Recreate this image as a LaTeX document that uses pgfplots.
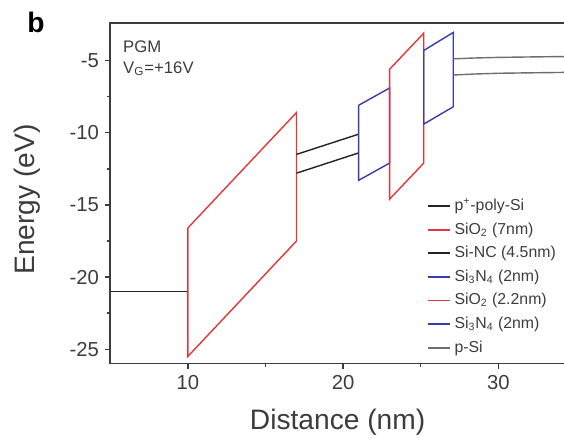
\documentclass[border=0pt]{standalone}
\usepackage{fontspec}
\setmainfont{Liberation Sans}
\usepackage{pgfplots}
\pgfplotsset{compat=1.18}
\usetikzlibrary{calc}
\definecolor{bandred}{RGB}{225,55,60}
\definecolor{bandblue}{RGB}{55,60,170}
\definecolor{bandblack}{RGB}{35,35,35}
\definecolor{bandgray}{RGB}{110,110,110}
\definecolor{axgray}{RGB}{60,60,60}
\begin{document}
\begin{tikzpicture}
\begin{axis}[
    scale only axis,
    width=9.08cm, height=6.8cm,
    xmin=5, xmax=34.3,
    ymin=-26, ymax=-2.4,
    axis line style={axgray, line width=0.9pt},
    xtick={10,20,30}, ytick={-25,-20,-15,-10,-5},
    minor x tick num=1, minor y tick num=1,
    xtick pos=bottom, ytick pos=left,
    tick align=outside,
    major tick length=0.1cm, minor tick length=0.07cm,
    tick style={axgray, line width=0.8pt},
    /pgf/number format/assume math mode=true,
    ticklabel style={font=\fontsize{11.5}{13}\selectfont, text=axgray},
    xlabel={Distance (nm)}, ylabel={Energy (eV)},
    label style={font=\fontsize{16}{18}\selectfont, text=axgray},
    xlabel style={at={(axis description cs:0.5,-0.171)}, anchor=center},
    ylabel style={at={(axis description cs:-0.183,0.482)}, anchor=center},
    unbounded coords=jump,
    legend cell align=left,
    legend style={draw=none, fill=none, at={(0.692,0.01)}, anchor=south west,
        font=\fontsize{9}{10}\selectfont, text=axgray, row sep=1.35pt, inner sep=1pt},
    legend image code/.code={\draw[#1, line width=1.1pt] (0cm,0cm) -- (0.44cm,0cm);},
    every axis plot/.append style={line width=0.8pt},
]
\addplot[bandblack] coordinates {(5,-21) (10,-21)};
\addlegendentry{p\textsuperscript{+}-poly-Si}
\addplot[bandred] coordinates {(10,-16.6) (17,-8.6) (17,-17.5) (10,-25.5) (10,-16.6)};
\addlegendentry{SiO\textsubscript{2} (7nm)}
\addplot[bandblack] coordinates {(17,-11.5) (21,-10.1) (19,nan) (17,-12.8) (21,-11.4)};
\addlegendentry{Si-NC (4.5nm)}
\addplot[bandblue] coordinates {(21,-8.1) (23,-6.9) (23,-12.1) (21,-13.3) (21,-8.1)};
\addlegendentry{Si\textsubscript{3}N\textsubscript{4} (2nm)}
\addplot[bandred] coordinates {(23,-5.6) (25.2,-3.1) (25.2,-12.1) (23,-14.6) (23,-5.6)};
\addlegendentry{SiO\textsubscript{2} (2.2nm)}
\addplot[bandblue] coordinates {(25.2,-4.3) (27.1,-3.05) (27.1,-8.2) (25.2,-9.4) (25.2,-4.3)};
\addlegendentry{Si\textsubscript{3}N\textsubscript{4} (2nm)}
\addplot[bandgray] coordinates {(27.1,-4.88) (28.5,-4.82) (30,-4.78) (32,-4.75) (34.3,-4.72)
    (30,nan) (27.1,-6.0) (28.5,-5.93) (30,-5.88) (32,-5.85) (34.3,-5.82)};
\addlegendentry{p-Si}
\node[anchor=north west, align=left, font=\fontsize{9.5}{11.5}\selectfont, text=axgray]
    at (rel axis cs:0.015,0.965) {PGM\\V\textsubscript{G}=+16V};
\end{axis}
\fill[axgray] ($(current axis.north west)+(-0.45pt,-0.5pt)$) rectangle ($(current axis.north east)+(0,0.5pt)$);
\fill[axgray] ($(current axis.south west)+(-0.5pt,0)$) rectangle ($(current axis.north west)+(0.5pt,0)$);
\node[font=\fontsize{16}{18}\selectfont\bfseries] at ($(current axis.north west)+(-1.48cm,0.02cm)$) {b};
\pgfresetboundingbox
\path ($(current axis.south west)+(-2.2cm,-1.48cm)$) rectangle ($(current axis.north east)+(-0.6pt,0.46cm)$);
\end{tikzpicture}
\end{document}
